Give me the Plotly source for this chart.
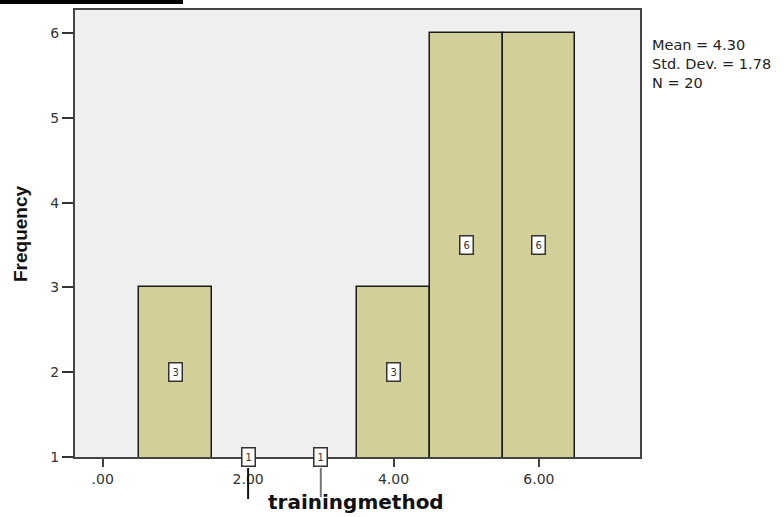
import plotly.graph_objects as go

# Data
bin_centers = [1, 2, 3, 4, 5, 6]
frequencies = [3, 1, 1, 3, 6, 6]
x_tick_vals = [0, 2, 4, 6]
x_tick_text = [".00", "2.00", "4.00", "6.00"]
y_tick_vals = [1, 2, 3, 4, 5, 6]
stats_text = "Mean = 4.30<br>Std. Dev. = 1.78<br>N = 20"
x_title = "trainingmethod"
y_title = "Frequency"

W, H = 784, 517
L, R, T, B = 75, 144, 10, 60
plot_w = W - L - R
plot_h = H - T - B

fig = go.Figure()
fig.add_trace(go.Bar(
    x=bin_centers, y=frequencies, width=1,
    marker=dict(color="#D3CF98",
                line=dict(color="#1a1a1a",
                          width=[1.5 if f > 1 else 0 for f in frequencies])),
    hoverinfo="x+y", showlegend=False,
))

# count labels in bars
for xc, f in zip(bin_centers, frequencies):
    fig.add_annotation(
        x=xc, y=(1 + f) / 2, xref="x", yref="y", text=str(f), showarrow=False,
        font=dict(family="DejaVu Sans", size=10, color="#333"),
        bgcolor="white", bordercolor="#333", borderwidth=1.5, borderpad=3,
    )

# leader lines under baseline labels
line_cols = ["#111", "#777"]
k = 0
for xc, f in zip(bin_centers, frequencies):
    if f == 1:
        fig.add_shape(type="line", xref="x", yref="paper", x0=xc, x1=xc,
                      y0=-11 / plot_h, y1=-(42 - 2 * k) / plot_h,
                      line=dict(color=line_cols[k % 2], width=2))
        k += 1

# top stray rule
fig.add_shape(type="line", xref="paper", yref="paper",
              x0=-L / plot_w, x1=(183 - L) / plot_w,
              y0=(H - B - 2) / plot_h, y1=(H - B - 2) / plot_h,
              line=dict(color="black", width=4))

# stats text
fig.add_annotation(
    x=(650 - L) / plot_w, y=(H - B - 35) / plot_h, xref="paper", yref="paper",
    xanchor="left", yanchor="top", align="left", showarrow=False,
    text=stats_text, font=dict(family="DejaVu Sans", size=14.5, color="#222"),
)

# axis titles
fig.add_annotation(
    x=(356 - L) / plot_w, y=-(502 - (H - B)) / plot_h, xref="paper", yref="paper",
    text="<b>" + x_title + "</b>", showarrow=False, xanchor="center", yanchor="middle",
    font=dict(family="DejaVu Sans", size=20, color="#111"),
)
fig.add_annotation(
    x=(20 - L) / plot_w, y=((H - B) - 234) / plot_h, xref="paper", yref="paper",
    text="<b>" + y_title + "</b>", showarrow=False, textangle=-90,
    xanchor="center", yanchor="middle",
    font=dict(family="Liberation Sans, Arial", size=19, color="#111"),
)

fig.update_layout(
    width=W, height=H,
    margin=dict(l=L, r=R, t=T, b=B, autoexpand=False),
    paper_bgcolor="white", plot_bgcolor="#EFEFEF",
    bargap=0,
    xaxis=dict(range=[(L - 102.7) / 72.7, (W - R - 102.7) / 72.7],
               tickvals=x_tick_vals, ticktext=x_tick_text,
               ticks="outside", ticklen=8, tickwidth=2, tickcolor="#444",
               showline=True, linecolor="#444", linewidth=2, mirror=True,
               showgrid=False, zeroline=False, automargin=False,
               tickfont=dict(family="DejaVu Sans", size=14, color="#333")),
    yaxis=dict(range=[1, 1 + plot_h / 84.8],
               tickvals=y_tick_vals,
               ticks="outside", ticklen=11, tickwidth=2, tickcolor="#333",
               showline=True, linecolor="#444", linewidth=2, mirror=True,
               showgrid=False, zeroline=False, automargin=False,
               tickfont=dict(family="DejaVu Sans", size=14, color="#333")),
)

fig.write_html("out.html", config={"displayModeBar": False},
               post_script="document.body.style.margin='0';")
